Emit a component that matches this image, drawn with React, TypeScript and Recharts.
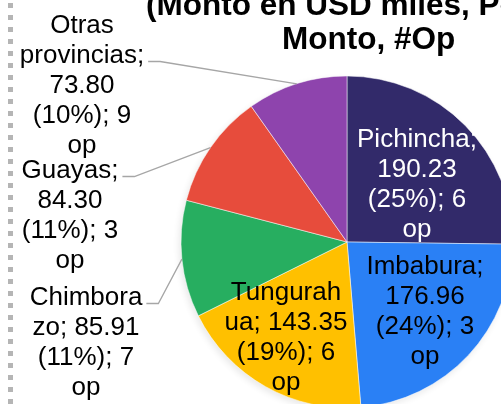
import { PieChart, Pie, Cell } from 'recharts';

const categories = ['Pichincha', 'Imbabura', 'Tungurahua', 'Chimborazo', 'Guayas', 'Otras provincias'];
const montos = [190.23, 176.96, 143.35, 85.91, 84.3, 73.8];
const porcentajes = [25, 24, 19, 11, 11, 10];
const operaciones = [6, 3, 6, 7, 3, 9];
// where Excel broke the province name inside the label (0 = at the space / after ";")
const nameBreaks = [0, 0, 8, 8, 0, 0];

const COLORS = ['#322A6A', '#2A80F5', '#FFC000', '#27AE60', '#E74C3C', '#8E44AD'];
const TEXT_COLORS = ['#ffffff', '#000000', '#000000', '#000000', '#000000', '#000000'];

const FONT = "'Liberation Sans', Arial, sans-serif";
const LABEL_SIZE = 26;
const LINE_H = 30;
const TITLE_SIZE = 31.5;

// label block placement relative to the pie centre (centre x, first baseline),
// lead = line the leader line attaches to (-1 = label inside the slice)
const LABEL_POS = [
  { dx: 70, dy: -95, lead: -1 },
  { dx: 78, dy: 32, lead: -1 },
  { dx: -61, dy: 58, lead: -1 },
  { dx: -261, dy: 63, lead: 0 },
  { dx: -277, dy: -64, lead: 0 },
  { dx: -265, dy: -209, lead: 1 },
];

const data = categories.map((name, i) => ({ name, value: montos[i] }));

function labelLines(i: number) {
  const name = categories[i];
  const val = montos[i].toFixed(2);
  const k = nameBreaks[i];
  const head = k
    ? [name.slice(0, k), `${name.slice(k)}; ${val}`]
    : [...name.split(' ').map((w, j, a) => (j === a.length - 1 ? w + ';' : w)), val];
  return [...head, `(${porcentajes[i]}%); ${operaciones[i]}`, 'op'];
}

let ctx: CanvasRenderingContext2D | null = null;
function textWidth(s: string) {
  if (!ctx) {
    ctx = document.createElement('canvas').getContext('2d');
    if (ctx) ctx.font = `${LABEL_SIZE}px 'Liberation Sans', Arial, sans-serif`;
  }
  return ctx ? ctx.measureText(s).width : s.length * LABEL_SIZE * 0.5;
}

function renderLabel(props: any) {
  const { cx, cy, midAngle, outerRadius, index } = props;
  const pos = LABEL_POS[index];
  const x = cx + pos.dx;
  const y0 = cy + pos.dy;
  const lines = labelLines(index);
  let leader = null;
  if (pos.lead >= 0) {
    const rad = Math.PI / 180;
    const ex = cx + outerRadius * Math.cos(-midAngle * rad);
    const ey = cy + outerRadius * Math.sin(-midAngle * rad);
    const ly = y0 + pos.lead * LINE_H - 1.5;
    const sx = x + textWidth(lines[pos.lead]) / 2 + 4;
    leader = (
      <polyline
        points={`${sx},${ly} ${sx + 12},${ly} ${ex},${ey}`}
        fill="none"
        stroke="#a6a6a6"
        strokeWidth={1.3}
      />
    );
  }
  return (
    <g key={`lbl-${index}`}>
      {leader}
      {lines.map((ln, j) => (
        <text
          key={j}
          x={x}
          y={y0 + j * LINE_H}
          textAnchor="middle"
          fill={TEXT_COLORS[index]}
          fontSize={LABEL_SIZE}
          fontFamily={FONT}
        >
          {ln}
        </text>
      ))}
    </g>
  );
}

export default function App() {
  return (
    <div
      style={{
        position: 'absolute',
        left: 0,
        top: 0,
        width: 501,
        height: 404,
        overflow: 'hidden',
        background: '#fff',
      }}
    >
      <style>{`.pie-shadow { filter: url(#pieBlur); opacity: 0.3; }`}</style>
      <svg width={0} height={0} style={{ position: 'absolute' }}>
        <defs>
          <filter id="pieBlur" x="-20%" y="-20%" width="140%" height="140%">
            <feGaussianBlur stdDeviation="2.5" />
          </filter>
        </defs>
      </svg>
      <PieChart width={501} height={404} margin={{ top: 0, right: 0, bottom: 0, left: 0 }}>
        <Pie
          className="pie-shadow"
          data={data}
          dataKey="value"
          nameKey="name"
          cx={345}
          cy={245}
          outerRadius={166}
          startAngle={90}
          endAngle={-270}
          stroke="none"
          label={false}
          labelLine={false}
          isAnimationActive={false}
        >
          {data.map((d) => (
            <Cell key={d.name} fill="#000" />
          ))}
        </Pie>
        <Pie
          data={data}
          dataKey="value"
          nameKey="name"
          cx={347}
          cy={242}
          outerRadius={166}
          startAngle={90}
          endAngle={-270}
          stroke="#ffffff"
          strokeWidth={0.5}
          label={renderLabel}
          labelLine={false}
          isAnimationActive={false}
        >
          {data.map((d, i) => (
            <Cell key={d.name} fill={COLORS[i]} />
          ))}
        </Pie>
      </PieChart>
      <svg
        width={501}
        height={404}
        style={{ position: 'absolute', left: 0, top: 0, pointerEvents: 'none' }}
      >
        <text x={146} y={15} fontSize={TITLE_SIZE} fontWeight="bold" fontFamily={FONT} fill="#000">
          (Monto en USD miles, Porcentaje del
        </text>
        <text x={282} y={49} fontSize={TITLE_SIZE} fontWeight="bold" fontFamily={FONT} fill="#000">
          Monto, #Op
        </text>
      </svg>
      <div
        style={{
          position: 'absolute',
          left: 8,
          top: 3,
          width: 5,
          height: 401,
          background:
            'repeating-linear-gradient(to bottom, #b5b5b5 0px, #b5b5b5 5px, transparent 5px, transparent 12px)',
        }}
      />
    </div>
  );
}
